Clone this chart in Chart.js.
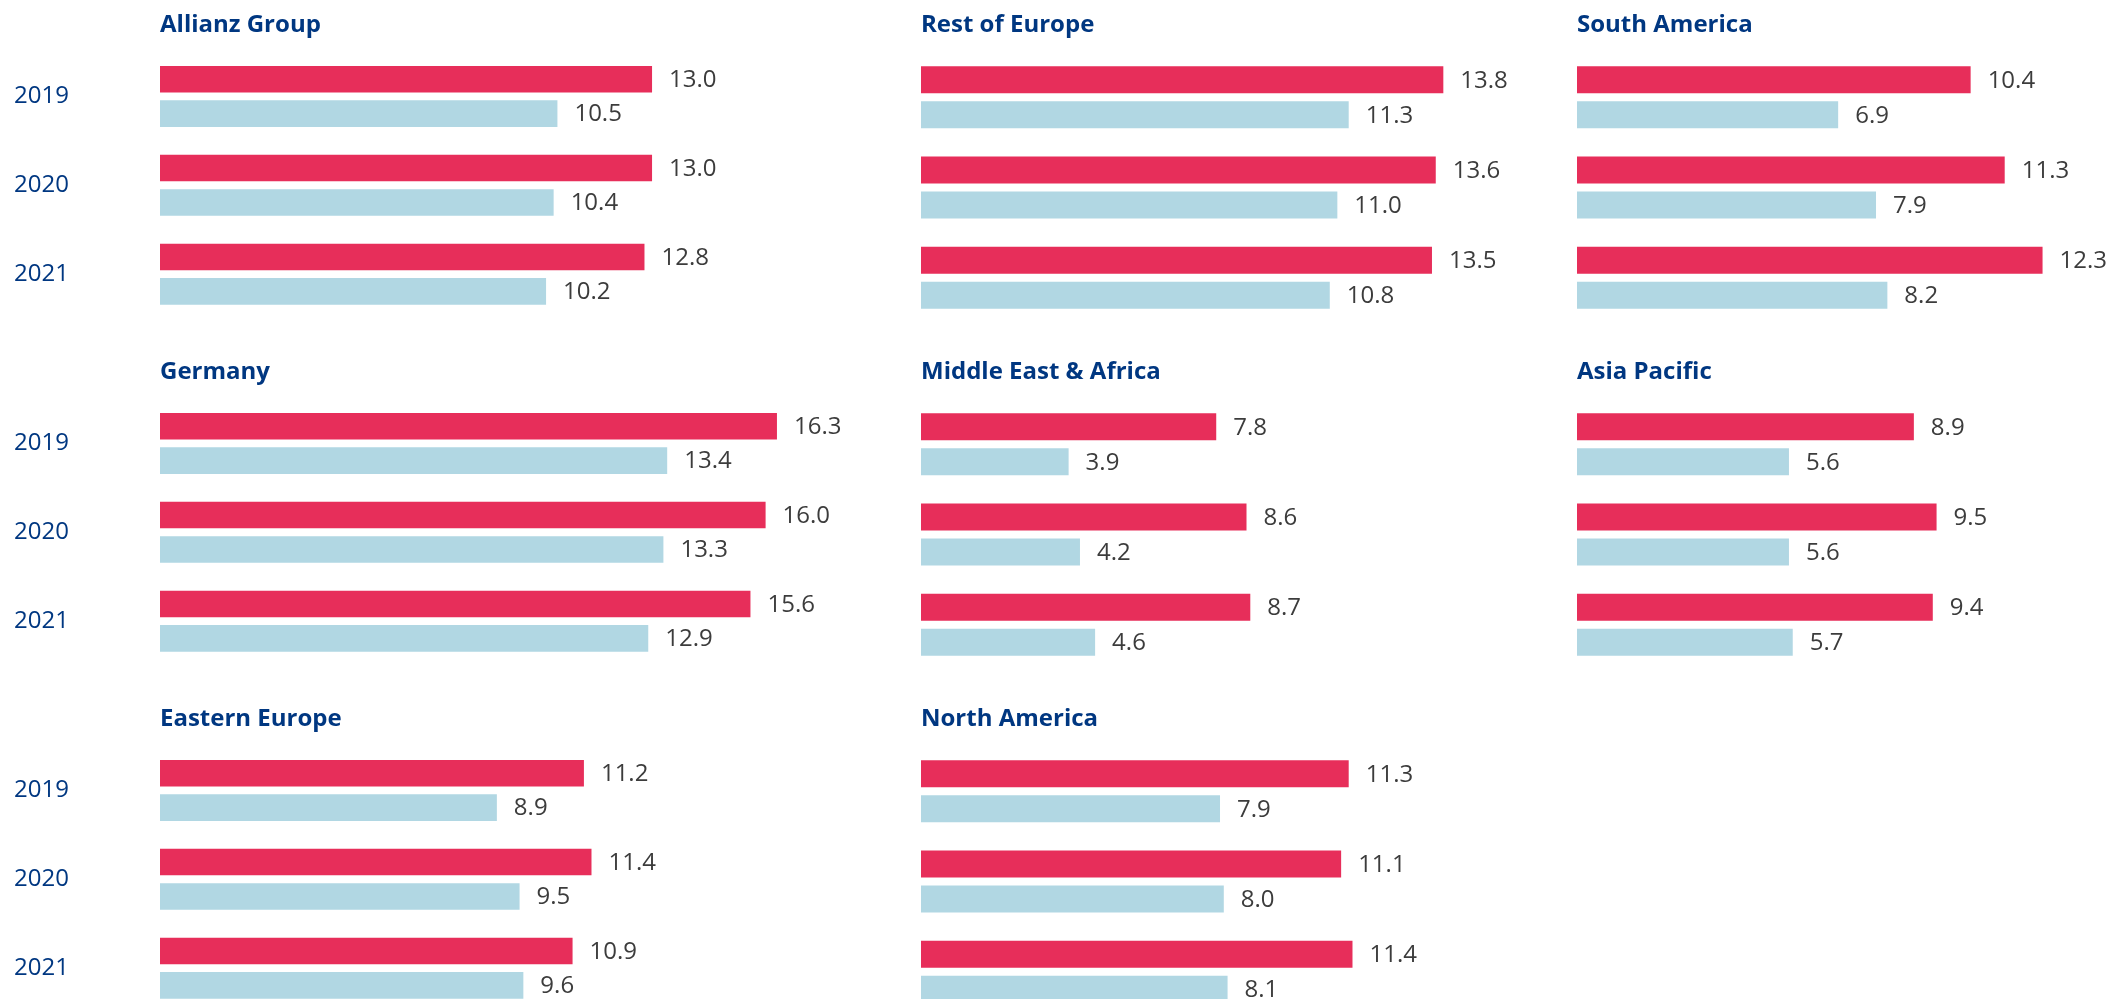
<!DOCTYPE html>
<html>
<head>
<meta charset="utf-8">
<script src="https://cdn.jsdelivr.net/npm/chart.js@4/dist/chart.umd.min.js"></script>
<style>
  html, body { margin: 0; padding: 0; background: #ffffff; width: 2112px; height: 999px; overflow: hidden; }
  canvas { position: absolute; }
</style>
</head>
<body>
<script>
// Categories and series
const years = ['2019', '2020', '2021'];
const panelTitles = [
  'Allianz Group', 'Rest of Europe', 'South America',
  'Germany', 'Middle East & Africa', 'Asia Pacific',
  'Eastern Europe', 'North America'
];
const redValues = [
  [13.0, 13.0, 12.8],
  [13.8, 13.6, 13.5],
  [10.4, 11.3, 12.3],
  [16.3, 16.0, 15.6],
  [7.8, 8.6, 8.7],
  [8.9, 9.5, 9.4],
  [11.2, 11.4, 10.9],
  [11.3, 11.1, 11.4]
];
const blueValues = [
  [10.5, 10.4, 10.2],
  [11.3, 11.0, 10.8],
  [6.9, 7.9, 8.2],
  [13.4, 13.3, 12.9],
  [3.9, 4.2, 4.6],
  [5.6, 5.6, 5.7],
  [8.9, 9.5, 9.6],
  [7.9, 8.0, 8.1]
];

// Styling and layout
const RED = '#e72e5a';
const BLUE = '#b1d7e3';
const NAVY = '#003781';
const GREY = '#3c3c3c';
const FONT = "'Open Sans', 'DejaVu Sans', sans-serif";
const AXIS_MAX = 20;
const PLOT_W = 757;
const PLOT_TOP = 52;
const PLOT_H = 271;
const PAD_RIGHT = 90;
const colLeft = [160, 921, 1577];
const rowTop = [0, 347, 694];

// Value printed to the right of each bar
const valueLabels = {
  id: 'valueLabels',
  afterDatasetsDraw(chart) {
    const ctx = chart.ctx;
    ctx.save();
    ctx.font = `24px ${FONT}`;
    ctx.fillStyle = GREY;
    ctx.textAlign = 'left';
    ctx.textBaseline = 'middle';
    chart.data.datasets.forEach((ds, i) => {
      chart.getDatasetMeta(i).data.forEach((bar, j) => {
        ctx.fillText(ds.data[j].toFixed(1), bar.x + 17, bar.y + 1);
      });
    });
    ctx.restore();
  }
};

// Bold panel heading aligned with the bar origin
const panelTitle = {
  id: 'panelTitle',
  afterDraw(chart, args, opts) {
    const ctx = chart.ctx;
    ctx.save();
    ctx.font = `bold 24px ${FONT}`;
    ctx.fillStyle = NAVY;
    ctx.textAlign = 'left';
    ctx.textBaseline = 'alphabetic';
    ctx.fillText(opts.text, chart.chartArea.left, chart.chartArea.top - 20);
    ctx.restore();
  }
};

panelTitles.forEach((title, i) => {
  const col = i % 3;
  const row = Math.floor(i / 3);
  const showYears = col === 0;
  const padLeft = showYears ? 14 : 16;
  const canvasLeft = showYears ? 0 : colLeft[col] - padLeft;
  const width = colLeft[col] - canvasLeft + PLOT_W + PAD_RIGHT;
  const height = PLOT_TOP + PLOT_H + 10;

  const canvas = document.createElement('canvas');
  canvas.width = width;
  canvas.height = height;
  canvas.style.left = canvasLeft + 'px';
  canvas.style.top = rowTop[row] + 'px';
  canvas.style.width = width + 'px';
  canvas.style.height = height + 'px';
  document.body.appendChild(canvas);

  const yAxis = {
    display: showYears,
    grid: { display: false },
    border: { display: false },
    ticks: {
      font: { family: FONT, size: 24 },
      color: NAVY,
      crossAlign: 'far',
      padding: 0
    }
  };
  if (showYears) {
    yAxis.afterFit = (scale) => { scale.width = colLeft[0] - padLeft; };
  }

  new Chart(canvas, {
    type: 'bar',
    data: {
      labels: years,
      datasets: [
        { data: redValues[i], backgroundColor: RED, borderWidth: 0 },
        { data: blueValues[i], backgroundColor: BLUE, borderWidth: 0 }
      ]
    },
    options: {
      indexAxis: 'y',
      responsive: false,
      animation: false,
      devicePixelRatio: 1,
      datasets: {
        bar: { barPercentage: 27 / 35, categoryPercentage: 70 / 90.33 }
      },
      layout: { padding: { left: padLeft, right: PAD_RIGHT, top: PLOT_TOP, bottom: 10 } },
      scales: {
        x: { display: false, min: 0, max: AXIS_MAX },
        y: yAxis
      },
      plugins: {
        legend: { display: false },
        tooltip: { enabled: false },
        title: { display: false },
        panelTitle: { text: title }
      }
    },
    plugins: [valueLabels, panelTitle]
  });
});
</script>
</body>
</html>
